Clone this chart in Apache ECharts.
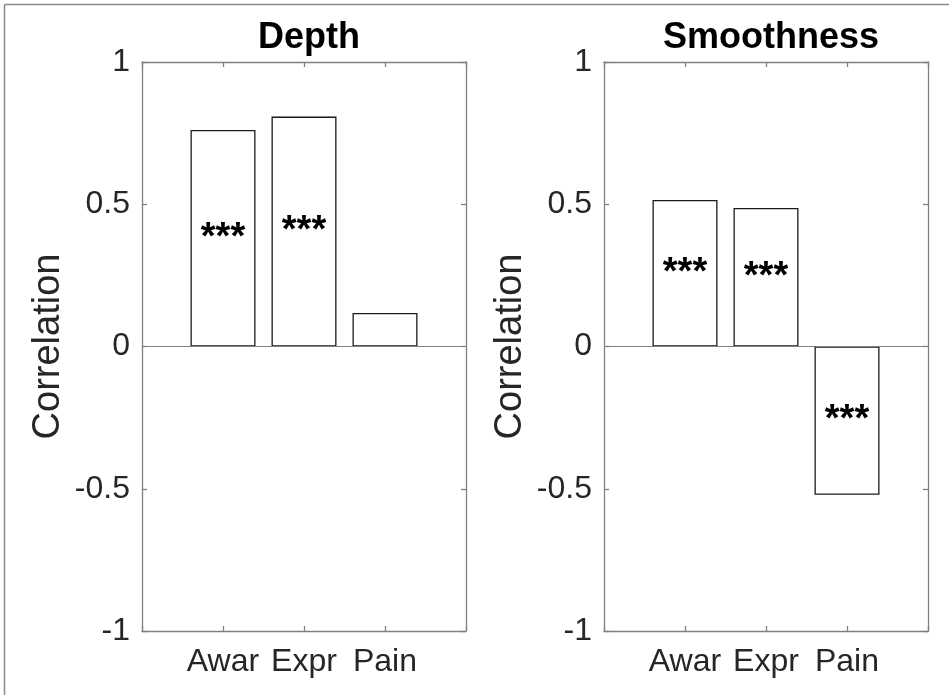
<!DOCTYPE html>
<html>
<head>
<meta charset="utf-8">
<script src="https://cdn.jsdelivr.net/npm/echarts@6/dist/echarts.min.js"></script>
<style>
html,body{margin:0;padding:0;background:#fff;}
#chart{width:949px;height:695px;}
</style>
</head>
<body>
<div id="chart"></div>
<script>
// ---- data ----
const categories = ['Awar', 'Expr', 'Pain'];
const categoryPositions = [1, 2, 3];
const depthValues = [0.761, 0.808, 0.118];
const smoothnessValues = [0.515, 0.487, -0.521];
const depthSig = ['***', '***', ''];
const smoothnessSig = ['***', '***', '***'];
const panelTitles = ['Depth', 'Smoothness'];
const yTicks = [-1, -0.5, 0, 0.5, 1];
const yLabel = 'Correlation';

const FONT = '"Liberation Sans", Arial, Helvetica, sans-serif';
const TXT = '#262626';
const AX = '#808080';

const grids = [
  {left: 142, top: 62, width: 324, height: 569},
  {left: 604, top: 62, width: 324, height: 569}
];

function xAxisFor(gi, pos) {
  return {
    type: 'value', gridIndex: gi, position: pos, min: 0, max: 4, interval: 1,
    axisLine: {show: true, onZero: false, lineStyle: {color: AX, width: 1.3}},
    axisTick: {show: true, inside: true, length: 5, lineStyle: {color: AX, width: 1.3}},
    splitLine: {show: false},
    axisLabel: {
      show: pos === 'bottom', margin: 15, color: TXT, fontFamily: FONT, fontSize: 32,
      formatter: function (v) {
        const i = categoryPositions.indexOf(v);
        return i >= 0 ? categories[i] : '';
      }
    }
  };
}
function yAxisFor(gi, pos) {
  return {
    type: 'value', gridIndex: gi, position: pos, min: yTicks[0], max: yTicks[yTicks.length - 1], interval: 0.5,
    axisLine: {show: true, onZero: false, lineStyle: {color: AX, width: 1.3}},
    axisTick: {show: true, inside: true, length: 5, lineStyle: {color: AX, width: 1.3}},
    splitLine: {show: false},
    name: pos === 'left' ? yLabel : '',
    nameLocation: 'middle', nameRotate: 90, nameGap: 74,
    nameTextStyle: {color: TXT, fontFamily: FONT, fontSize: 38},
    axisLabel: {
      show: pos === 'left', margin: 12, color: TXT, fontFamily: FONT, fontSize: 32,
      formatter: function (v) { return String(v); }
    }
  };
}

function barSeries(gi, values, sig) {
  return {
    type: 'bar', xAxisIndex: gi * 2, yAxisIndex: gi * 2,
    data: values.map((v, i) => [categoryPositions[i], v]),
    barWidth: 65,
    itemStyle: {color: '#ffffff', borderColor: '#1a1a1a', borderWidth: 1.3},
    label: {
      show: true, position: 'inside', color: '#000', fontFamily: FONT, fontSize: 38, fontWeight: 'bold',
      formatter: function (p) { return sig[p.dataIndex]; }
    },
    markLine: {
      silent: true, symbol: 'none', label: {show: false},
      lineStyle: {color: AX, width: 1, type: 'solid'},
      data: [{yAxis: 0}]
    },
    animation: false
  };
}

const chart = echarts.init(document.getElementById('chart'), null, {renderer: 'canvas'});
chart.setOption({
  backgroundColor: '#ffffff',
  animation: false,
  title: panelTitles.map((t, i) => ({
    text: t, left: grids[i].left + grids[i].width / 2, top: 15, textAlign: 'center',
    textStyle: {color: '#000', fontFamily: FONT, fontSize: 36, fontWeight: 'bold'}
  })),
  grid: grids,
  xAxis: [xAxisFor(0, 'bottom'), xAxisFor(0, 'top'), xAxisFor(1, 'bottom'), xAxisFor(1, 'top')],
  yAxis: [yAxisFor(0, 'left'), yAxisFor(0, 'right'), yAxisFor(1, 'left'), yAxisFor(1, 'right')],
  series: [barSeries(0, depthValues, depthSig), barSeries(1, smoothnessValues, smoothnessSig)],
  graphic: [
    {type: 'line', shape: {x1: 4.5, y1: 4.5, x2: 949, y2: 4.5}, style: {stroke: '#8a8a8a', lineWidth: 1.5}},
    {type: 'line', shape: {x1: 4.5, y1: 4.5, x2: 4.5, y2: 695}, style: {stroke: '#8a8a8a', lineWidth: 1.5}}
  ]
});
</script>
</body>
</html>
